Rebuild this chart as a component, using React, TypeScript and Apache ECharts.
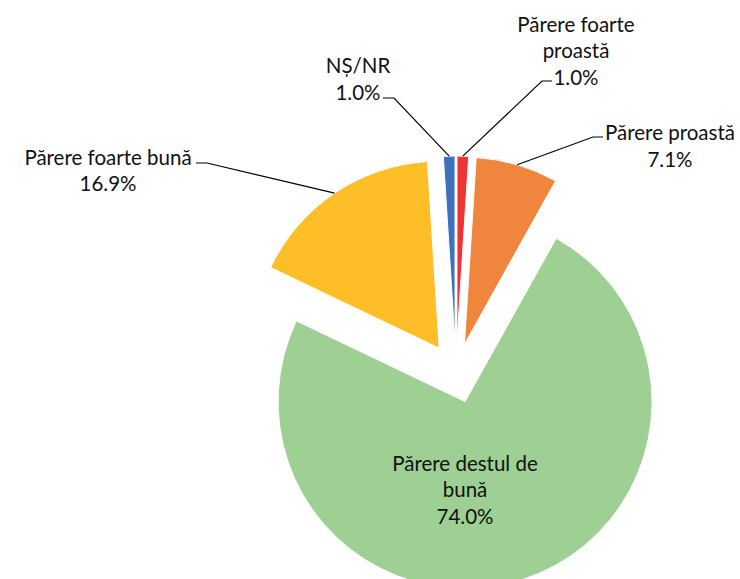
import React, { useEffect, useRef } from "react";
import * as echarts from "echarts";

// ---- data ----
const categories = [
  "Părere foarte proastă",
  "Părere proastă",
  "Părere destul de bună",
  "Părere foarte bună",
  "NȘ/NR",
];
const labelText = [
  "Părere foarte\nproastă",
  "Părere proastă",
  "Părere destul de\nbună",
  "Părere foarte bună",
  "NȘ/NR",
];
const values = [1.0, 7.1, 74.0, 16.9, 1.0];
const colors = ["#EE3433", "#F0853D", "#9DD092", "#FDBE28", "#3E73BB"];

// ---- layout (px) ----
const CX = 456;
const CY = 373;
const R = 187;
const OFFSET = 30;
const FONT = "20.5px Lato";
const LINE_H = 26.5;
const labelPos = [
  { tx: 576, ty: 50, elbow: [542, 81], end: [552, 81] },
  { tx: 670, ty: 145.5, elbow: [593, 137], end: [603, 137] },
  { tx: 465, ty: 489, elbow: null, end: null },
  { tx: 108, ty: 170, elbow: [207, 163], end: [196, 163] },
  { tx: 358, ty: 78.5, elbow: [394, 98], end: [383, 98] },
];

export default function App() {
  const ref = useRef<HTMLDivElement>(null);
  useEffect(() => {
    document.body.style.margin = "0";
    if (!ref.current) return;
    const chart = echarts.init(ref.current, null, { renderer: "svg" });
    const total = values.reduce((a, b) => a + b, 0);
    let cum = 0;
    const graphics: any[] = [];
    values.forEach((v, i) => {
      const mid = ((cum + v / 2) / total) * 2 * Math.PI;
      cum += v;
      const dx = Math.sin(mid);
      const dy = -Math.cos(mid);
      const lp = labelPos[i];
      if (lp.elbow && lp.end) {
        const sx = CX + (R + OFFSET) * dx;
        const sy = CY + (R + OFFSET) * dy;
        graphics.push({
          type: "polyline",
          silent: true,
          shape: { points: [[sx, sy], lp.elbow, lp.end] },
          style: { stroke: "#000", lineWidth: 1.2, fill: "none" },
          z: 10,
        });
      }
      graphics.push({
        type: "text",
        x: lp.tx,
        y: lp.ty,
        silent: true,
        z: 11,
        style: {
          text: `${labelText[i]}\n${v.toFixed(1)}%`,
          align: "center",
          verticalAlign: "middle",
          textAlign: "center",
          textVerticalAlign: "middle",
          font: FONT,
          lineHeight: LINE_H,
          fill: "#111",
        },
      });
    });

    chart.setOption({
      animation: false,
      backgroundColor: "#fff",
      series: [
        {
          type: "pie",
          center: [CX, CY],
          radius: R,
          startAngle: 90,
          clockwise: true,
          selectedMode: "multiple",
          selectedOffset: OFFSET,
          label: { show: false },
          labelLine: { show: false },
          emphasis: { disabled: true, scale: false },
          itemStyle: { borderColor: "#fff", borderWidth: 1 },
          data: values.map((v, i) => ({
            name: categories[i],
            value: v,
            selected: true,
            itemStyle: { color: colors[i] },
            select: { itemStyle: { color: colors[i], borderColor: "#fff", borderWidth: 1 } },
          })),
        },
      ],
      graphic: graphics,
    });
    return () => chart.dispose();
  }, []);
  return (
    <div
      ref={ref}
      style={{ position: "absolute", left: 0, top: 0, width: 740, height: 579 }}
    />
  );
}
